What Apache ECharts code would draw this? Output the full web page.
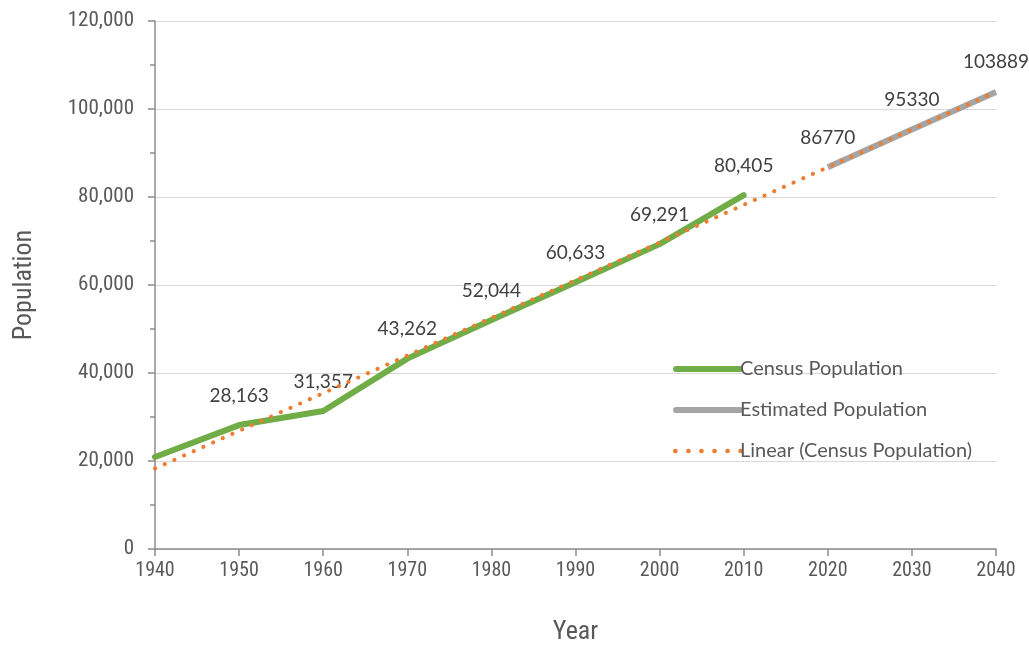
<!DOCTYPE html>
<html><head><meta charset="utf-8">
<script src="https://cdn.jsdelivr.net/npm/echarts@6/dist/echarts.min.js"></script>
<style>html,body{margin:0;padding:0;background:#fff}#c{width:1029px;height:646px}</style>
</head><body><div id="c"></div>
<script>
const censusYears = [1940, 1950, 1960, 1970, 1980, 1990, 2000, 2010];
const censusValues = [20900, 28163, 31357, 43262, 52044, 60633, 69291, 80405];
const censusLabels = ['', '28,163', '31,357', '43,262', '52,044', '60,633', '69,291', '80,405'];
const estYears = [2020, 2030, 2040];
const estValues = [86770, 95330, 103889];
const trendYears = [1940, 2040];
const trendValues = [18300, 103889];

const narrow = "'Liberation Sans Narrow', 'Roboto Condensed', Lato, sans-serif";
const labelFont = "Lato, 'Open Sans', sans-serif";
const barIcon = 'path://M3,0 L65,0 A3,3 0 0,1 65,6 L3,6 A3,3 0 0,1 3,0 Z';

const chart = echarts.init(document.getElementById('c'));
chart.setOption({
  animation: false,
  backgroundColor: '#fff',
  grid: { left: 155, right: 33, top: 21, bottom: 97, containLabel: false, outerBoundsMode: 'none' },
  legend: {
    orient: 'vertical', left: 668, top: 354, itemWidth: 70, itemHeight: 7, itemGap: 21,
    textStyle: { fontFamily: labelFont, fontSize: 20, color: '#595959', padding: [0, 0, 0, -8] },
    data: [
      { name: 'Census Population', icon: barIcon, itemStyle: { color: '#70AD47' } },
      { name: 'Estimated Population', icon: barIcon, itemStyle: { color: '#A5A5A5' } },
      { name: 'Linear (Census Population)', icon: 'path://M2,0 a2,2 0 1,0 0.01,0 M13,0 a2,2 0 1,0 0.01,0 M24,0 a2,2 0 1,0 0.01,0 M35,0 a2,2 0 1,0 0.01,0 M46,0 a2,2 0 1,0 0.01,0 M57,0 a2,2 0 1,0 0.01,0', itemStyle: { color: '#ED7D31' } }
    ]
  },
  xAxis: {
    type: 'value', min: 1940, max: 2040, interval: 10,
    name: 'Year', nameLocation: 'middle', nameGap: 70,
    nameTextStyle: { fontFamily: narrow, fontSize: 26, color: '#595959' },
    axisLine: { lineStyle: { color: '#8C8C8C', width: 1.5 } },
    axisTick: { show: true, length: 7, lineStyle: { color: '#8C8C8C', width: 1.5 } },
    axisLabel: { fontFamily: narrow, fontSize: 20, color: '#595959', margin: 12, formatter: v => String(v) },
    splitLine: { show: false }
  },
  yAxis: {
    type: 'value', min: 0, max: 120000, interval: 20000,
    name: 'Population', nameLocation: 'middle', nameGap: 118, nameRotate: 90,
    nameTextStyle: { fontFamily: narrow, fontSize: 26, color: '#595959' },
    axisLine: { show: true, lineStyle: { color: '#8C8C8C', width: 1.5 } },
    axisTick: { show: true, length: 7, lineStyle: { color: '#8C8C8C', width: 1.5 } },
    minorTick: { show: true, splitNumber: 2, length: 5, lineStyle: { color: '#8C8C8C', width: 1.5 } },
    axisLabel: { fontFamily: narrow, fontSize: 21, color: '#595959', margin: 21,
      formatter: v => v.toLocaleString('en-US') },
    splitLine: { show: true, lineStyle: { color: '#D9D9D9', width: 1.2 } }
  },
  series: [
    {
      name: 'Census Population', type: 'line', z: 2,
      data: censusYears.map((y, i) => [y, censusValues[i]]),
      showSymbol: true, symbol: 'circle', symbolSize: 0.1,
      lineStyle: { color: '#70AD47', width: 6, cap: 'round', join: 'round' },
      itemStyle: { color: '#70AD47' },
      label: { show: true, position: 'top', distance: 20, fontFamily: labelFont, fontSize: 19, color: '#404040',
        formatter: p => censusLabels[p.dataIndex] }
    },
    {
      name: 'Estimated Population', type: 'line', z: 2,
      data: estYears.map((y, i) => [y, estValues[i]]),
      showSymbol: true, symbol: 'circle', symbolSize: 0.1,
      lineStyle: { color: '#A5A5A5', width: 6, cap: 'butt' },
      itemStyle: { color: '#A5A5A5' },
      label: { show: true, position: 'top', distance: 20, fontFamily: labelFont, fontSize: 19, color: '#404040',
        formatter: p => String(estValues[p.dataIndex]) }
    },
    {
      name: 'Linear (Census Population)', type: 'line', z: 3,
      data: trendYears.map((y, i) => [y, trendValues[i]]),
      showSymbol: false, symbol: 'none',
      lineStyle: { color: '#ED7D31', width: 4, type: [0.1, 10.5], cap: 'round' },
      itemStyle: { color: '#ED7D31' }
    }
  ]
});
</script></body></html>
